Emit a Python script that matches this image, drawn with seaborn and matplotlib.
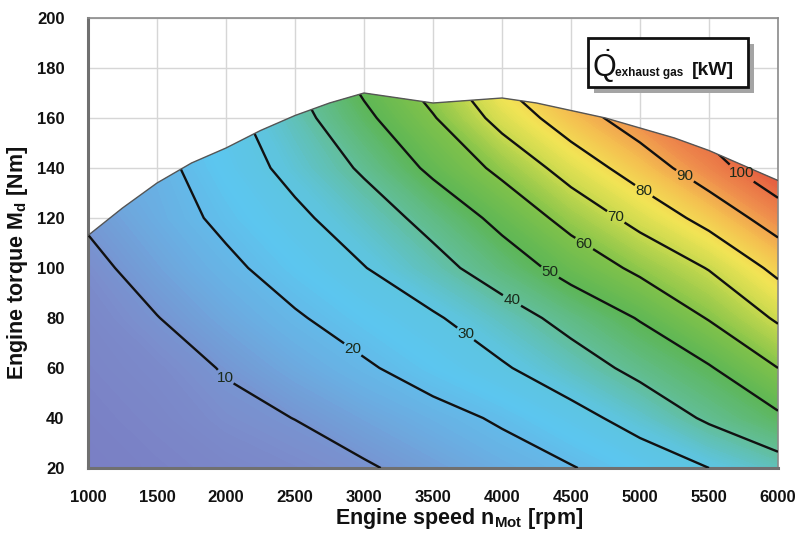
import numpy as np
import pandas as pd
import matplotlib
matplotlib.use("Agg")
import matplotlib.pyplot as plt
import seaborn as sns
from matplotlib.colors import LinearSegmentedColormap
from matplotlib.patches import Polygon, Rectangle

# ---------------- data ----------------
speeds = [1000, 1500, 2000, 2500, 3000, 3500, 4000, 4500, 5000, 5500, 6000]
torques = [20, 40, 60, 80, 100, 120, 140, 160, 180]
q_20 = [3.0, 4.2, 5.6, 7.3, 9.2, 12.5, 16.0, 19.5, 24.6, 30.0, 36.0]
q_40 = [3.8, 5.4, 8.2, 10.1, 13.6, 17.1, 21.1, 26.8, 33.6, 41.4, 48.3]
q_60 = [4.8, 7.0, 10.5, 14.7, 18.9, 23.8, 29.0, 35.6, 42.5, 49.2, 60.0]
q_80 = [6.0, 9.8, 14.4, 19.1, 24.0, 28.9, 35.7, 43.1, 50.6, 60.6, 71.3]
q_100 = [8.0, 13.1, 18.2, 23.8, 29.7, 36.8, 44.9, 53.5, 62.1, 70.5, 82.5]
q_120 = [11.0, 16.0, 21.9, 28.0, 35.1, 43.1, 52.7, 63.4, 73.2, 83.3, 94.8]
q_140 = [14.0, 17.5, 24.9, 32.8, 41.3, 52.0, 62.4, 74.1, 84.7, 95.8, 107.7]
q_160 = [16.0, 20.0, 27.1, 36.5, 47.9, 59.3, 73.4, 85.3, 95.1, 105.0, 114.0]
q_180 = [18.0, 23.0, 31.0, 41.0, 54.0, 67.0, 83.0, 95.0, 105.0, 115.0, 124.0]

# full-load curve
fl_speed = [1000, 1250, 1500, 1750, 2000, 2250, 2500, 2750, 3000, 3250, 3500,
            3750, 4000, 4250, 4500, 4750, 5000, 5250, 5500, 5750, 6000]
fl_torque = [113, 124, 134, 142, 148, 155, 161, 166, 170, 168, 166,
             167, 168, 166, 163, 160, 156, 152, 147, 141, 135]

contour_levels = [10, 20, 30, 40, 50, 60, 70, 80, 90, 100]

xticks = [1000, 1500, 2000, 2500, 3000, 3500, 4000, 4500, 5000, 5500, 6000]
yticks = [20, 40, 60, 80, 100, 120, 140, 160, 180, 200]

# ---------------- style ----------------
sns.set_theme(style="white")
plt.rcParams['font.family'] = ['Liberation Sans', 'DejaVu Sans']
plt.rcParams['mathtext.fontset'] = 'custom'
plt.rcParams['mathtext.rm'] = 'Liberation Sans'
plt.rcParams['mathtext.bf'] = 'Liberation Sans:bold'
plt.rcParams['mathtext.it'] = 'Liberation Sans:italic'

cmap_nodes = [(0, '#7a78c0'), (8, '#7b8dcc'), (16, '#6aaee2'), (24, '#5cc6ef'),
              (32, '#5ec4dc'), (40, '#62be9c'), (50, '#5db656'), (60, '#80c24a'),
              (70, '#c6d84e'), (78, '#f2e455'), (86, '#f4c050'), (95, '#ee8a4c'),
              (110, '#e0463a')]
vmax = 110.0
cmap = LinearSegmentedColormap.from_list(
    'qexh', [(v / vmax, c) for v, c in cmap_nodes])

Q = np.array([q_20, q_40, q_60, q_80, q_100, q_120, q_140, q_160, q_180])
X, Y = np.meshgrid(speeds, torques)

fig = plt.figure(figsize=(8.01, 5.43), dpi=100)
ax = fig.add_axes([88 / 801, 1 - 468 / 543, 690 / 801, 450 / 543])

ax.set_xlim(1000, 6000)
ax.set_ylim(20, 200)
ax.set_xticks(xticks)
ax.set_yticks(yticks)
ax.grid(True, color='#d6d6d6', linewidth=1.0, zorder=0)
ax.set_axisbelow(True)

# region under the full-load curve
poly_pts = list(zip(fl_speed, fl_torque)) + [(6000, 20), (1000, 20)]
clip = Polygon(poly_pts, closed=True, facecolor='none', edgecolor='none',
               transform=ax.transData)
ax.add_patch(clip)

cf = ax.contourf(X, Y, Q, levels=np.linspace(0, 125, 251), cmap=cmap,
                 vmin=0, vmax=vmax, zorder=2)
cf.set_edgecolor('face')
cf.set_linewidth(0.6)
cf.set_clip_path(clip)
cl = ax.contour(X, Y, Q, levels=contour_levels, colors='#111111',
                linewidths=1.7, zorder=3)
cl.set_clip_path(clip)

label_pos = [(2029, 58), (2920, 67.6), (3768, 76), (4072, 87), (4348, 98.4),
             (4580, 108.4), (4819, 120), (5022, 130.4), (5304, 135), (5725, 137)]
texts = ax.clabel(cl, contour_levels, manual=label_pos, fmt='%d', fontsize=11,
                  inline=True, inline_spacing=2, colors='#1a2a1a')
for t in texts:
    t.set_rotation(0)

fl = pd.DataFrame({'speed': fl_speed, 'torque': fl_torque})
sns.lineplot(data=fl, x='speed', y='torque', color='#555555', linewidth=1.0,
             ax=ax, zorder=4)

# spines / ticks
for s in ['left', 'bottom']:
    ax.spines[s].set_color('#707070')
    ax.spines[s].set_linewidth(2.2)
for s in ['top', 'right']:
    ax.spines[s].set_color('#8a8a8a')
    ax.spines[s].set_linewidth(1.2)
ax.tick_params(axis='both', which='major', direction='out', length=5,
               width=1, color='#888888', labelsize=12)
ax.tick_params(axis='x', pad=11)
ax.tick_params(axis='y', pad=12)
for lab in ax.get_xticklabels() + ax.get_yticklabels():
    lab.set_fontweight('bold')
    lab.set_color('#111111')

ax.set_xlabel(r'Engine speed n$_{\mathbf{Mot}}$ [rpm]', fontsize=15.5,
              fontweight='bold', color='#111111')
ax.set_ylabel(r'Engine torque M$_{\mathbf{d}}$ [Nm]', fontsize=15.5,
              fontweight='bold', color='#111111')
ax.xaxis.set_label_coords(0.538, -0.085)
ax.yaxis.set_label_coords(-0.084, 0.455)

# legend-like title box with shadow
bx0, by0, bw, bh = 588 / 801, 1 - 87 / 543, 160 / 801, 49 / 543
fig.patches.append(Rectangle((bx0 + 6 / 801, by0 - 6 / 543), bw, bh,
                             transform=fig.transFigure, facecolor='#a4a4a4',
                             edgecolor='none', zorder=5))
fig.patches.append(Rectangle((bx0, by0), bw, bh, transform=fig.transFigure,
                             facecolor='white', edgecolor='#111111',
                             linewidth=2.0, zorder=6))
fig.text(bx0 + 4 / 801, by0 + 10 / 543, r'$\dot{\mathrm{Q}}$', fontsize=22,
         color='#111111', ha='left', va='baseline', zorder=7)
fig.text(bx0 + 27 / 801, by0 + 11 / 543, 'exhaust gas', fontsize=8.5,
         fontweight='bold', color='#111111', ha='left', va='baseline', zorder=7)
fig.text(bx0 + 104 / 801, by0 + 12 / 543, '[kW]', fontsize=14,
         fontweight='bold', color='#111111', ha='left', va='baseline', zorder=7)

fig.savefig('out.png', dpi=100)
